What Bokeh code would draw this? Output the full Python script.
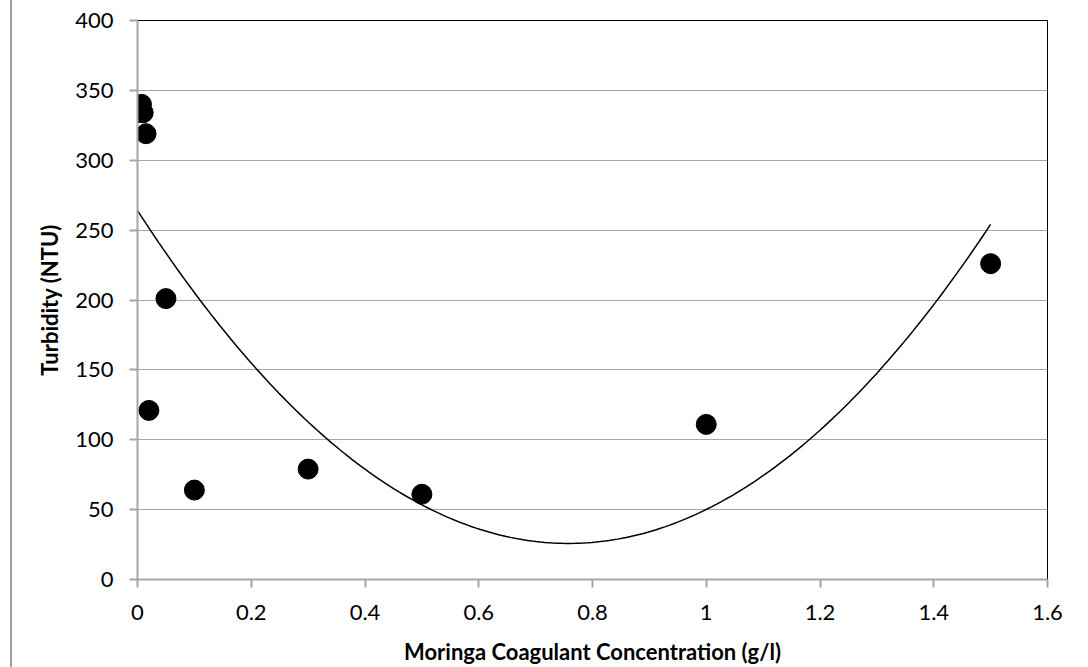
from bokeh.plotting import figure
from bokeh.models import FixedTicker, Div, Row
from bokeh.embed import file_html
from bokeh.resources import INLINE
import numpy as np

# Data
concentration = [0.0, 0.007, 0.01, 0.015, 0.02, 0.05, 0.1, 0.3, 0.5, 1.0, 1.5]
turbidity = [334, 340, 334, 319, 121, 201, 64, 79, 61, 111, 226]
# second-order polynomial trendline coefficients (a*x^2 + b*x + c)
trend_coeffs = [414.6, -628.5, 264.0]
x_ticks = [0, 0.2, 0.4, 0.6, 0.8, 1.0, 1.2, 1.4, 1.6]
x_tick_labels = ["0", "0.2", "0.4", "0.6", "0.8", "1", "1.2", "1.4", "1.6"]
y_ticks = [0, 50, 100, 150, 200, 250, 300, 350, 400]

FONT = "Lato"
GRID = "#a6a6a6"

p = figure(width=1076, height=667, x_range=(0, 1.6), y_range=(0, 400),
           output_backend="svg", toolbar_location=None, margin=0,
           min_border_left=125, min_border_right=41, min_border_top=20, min_border_bottom=88)
p.background_fill_color = "white"
p.border_fill_color = "white"
p.outline_line_color = "black"
p.outline_line_width = 1

p.xgrid.grid_line_color = None
p.ygrid.grid_line_color = GRID
p.ygrid.grid_line_width = 1

p.xaxis.ticker = FixedTicker(ticks=x_ticks)
p.xaxis.major_label_overrides = {t: l for t, l in zip(x_ticks, x_tick_labels)}
p.yaxis.ticker = FixedTicker(ticks=y_ticks)

for ax in (p.xaxis, p.yaxis):
    ax.axis_line_color = GRID
    ax.axis_line_width = 2
    ax.major_tick_line_color = GRID
    ax.major_tick_line_width = 2
    ax.major_tick_out = 8
    ax.major_tick_in = 0
    ax.minor_tick_line_color = None
    ax.major_label_text_font = FONT
    ax.major_label_text_font_size = "22px"
    ax.major_label_text_color = "black"
    ax.axis_label_text_font = FONT
    ax.axis_label_text_font_size = "22px"
    ax.axis_label_text_font_style = "bold"
    ax.axis_label_text_color = "black"

p.xaxis.major_label_standoff = 17
p.yaxis.major_label_standoff = 16
p.xaxis.axis_label = "Moringa Coagulant Concentration (g/l)"
p.yaxis.axis_label = "Turbidity (NTU)"
p.xaxis.axis_label_standoff = 15
p.yaxis.axis_label_standoff = 9

# trendline
xs = np.linspace(0, max(concentration), 200)
ys = np.polyval(trend_coeffs, xs)
p.line(xs, ys, line_color="black", line_width=1.5)

p.scatter(concentration, turbidity, size=20, fill_color="black", line_color="black")

# thin gray rule at the far left of the page
spacer = Div(width=10, height=667, margin=0)
rule = Div(width=2, height=667, margin=0, styles={"background-color": "#a0a0a0"})
layout = Row(children=[spacer, rule, p], spacing=0, margin=0)

open("out.html", "w").write(file_html(layout, INLINE))
